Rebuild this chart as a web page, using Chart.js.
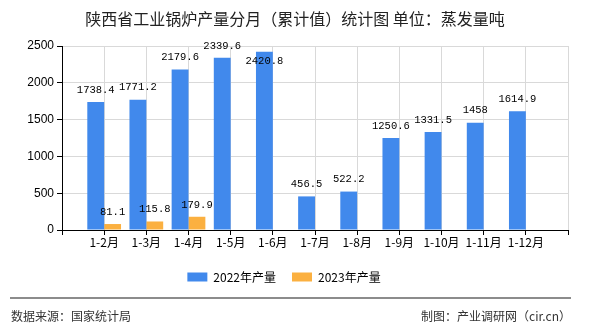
<!DOCTYPE html>
<html>
<head>
<meta charset="utf-8">
<script src="https://cdn.jsdelivr.net/npm/chart.js@4.4.0/dist/chart.umd.min.js"></script>
<style>
  body { margin: 0; background: #fff; }
  #wrap { position: relative; width: 590px; height: 330px; overflow: hidden; font-family: "Noto Sans CJK SC", sans-serif; }
  #chart { position: absolute; left: 0; top: 0; }
  .title { position: absolute; left: 0; width: 590px; top: 6px; text-align: center; font-size: 16px; color: #222; }
  .line { position: absolute; left: 10px; width: 561px; top: 297px; height: 0; border-top: 2px solid #8c8c8c; }
  .foot { position: absolute; top: 307px; font-size: 12px; color: #333; }
</style>
</head>
<body>
<div id="wrap">
  <canvas id="chart" width="590" height="330"></canvas>
  <div class="title">陕西省工业锅炉产量分月（累计值）统计图 单位：蒸发量吨</div>
  <div class="line"></div>
  <div class="foot" style="left:11px">数据来源：国家统计局</div>
  <div class="foot" style="right:19px">制图：产业调研网（cir.cn）</div>
</div>
<script>
const months = ['1-2月', '1-3月', '1-4月', '1-5月', '1-6月', '1-7月', '1-8月', '1-9月', '1-10月', '1-11月', '1-12月'];
const output2022 = [1738.4, 1771.2, 2179.6, 2339.6, 2420.8, 456.5, 522.2, 1250.6, 1331.5, 1458, 1614.9];
const output2023 = [81.1, 115.8, 179.9, null, null, null, null, null, null, null, null];
const yTicks = [0, 500, 1000, 1500, 2000, 2500];

// one empty slot at each end so the labels sit on the grid lines
const labels = [''].concat(months, ['']);
const pad = arr => [null].concat(arr, [null]);

const valueLabels = {
    id: 'valueLabels',
    afterDatasetsDraw(chart) {
        const ctx = chart.ctx;
        ctx.save();
        ctx.font = '10.5px "Liberation Mono", monospace';
        ctx.fillStyle = '#000';
        ctx.textAlign = 'center';
        ctx.textBaseline = 'middle';
        chart.data.datasets.forEach((ds, i) => {
            chart.getDatasetMeta(i).data.forEach((bar, j) => {
                const v = ds.data[j];
                if (v === null || v === undefined) return;
                let y = bar.y - 12;
                if (y < chart.chartArea.top - 3) y = bar.y + 9;
                ctx.fillText(String(v), bar.x, y);
            });
        });
        ctx.restore();
    }
};

new Chart(document.getElementById('chart'), {
    type: 'bar',
    data: {
        labels: labels,
        datasets: [
            { label: '2022年产量', data: pad(output2022), backgroundColor: '#4189ec' },
            { label: '2023年产量', data: pad(output2023), backgroundColor: '#fbb040' }
        ]
    },
    options: {
        responsive: false,
        animation: false,
        layout: { padding: { left: 0, right: 22, top: 46, bottom: 37 } },
        datasets: { bar: { barPercentage: 1, categoryPercentage: 0.8 } },
        scales: {
            x: {
                offset: false,
                grid: { color: '#d9d9d9', tickColor: '#000', tickLength: 5, offset: false },
                border: { color: '#000' },
                ticks: { autoSkip: false, maxRotation: 0, color: '#000', font: { size: 12, family: '"Noto Sans CJK SC"' }, padding: 0 },
                afterFit: s => { s.height = 25; }
            },
            y: {
                min: 0,
                max: 2500,
                afterBuildTicks: s => { s.ticks = yTicks.map(v => ({ value: v })); },
                grid: { color: '#d9d9d9', tickColor: '#000', tickLength: 5 },
                border: { color: '#000' },
                ticks: { color: '#000', font: { size: 12, family: '"Liberation Sans"' }, padding: 3, callback: v => String(v) },
                afterFit: s => { s.width = 62; }
            }
        },
        plugins: {
            legend: {
                position: 'bottom',
                labels: { boxWidth: 20, boxHeight: 9, padding: 16, color: '#000', font: { size: 12, family: '"Noto Sans CJK SC"' } }
            },
            tooltip: { enabled: false }
        }
    },
    plugins: [valueLabels]
});
</script>
</body>
</html>
